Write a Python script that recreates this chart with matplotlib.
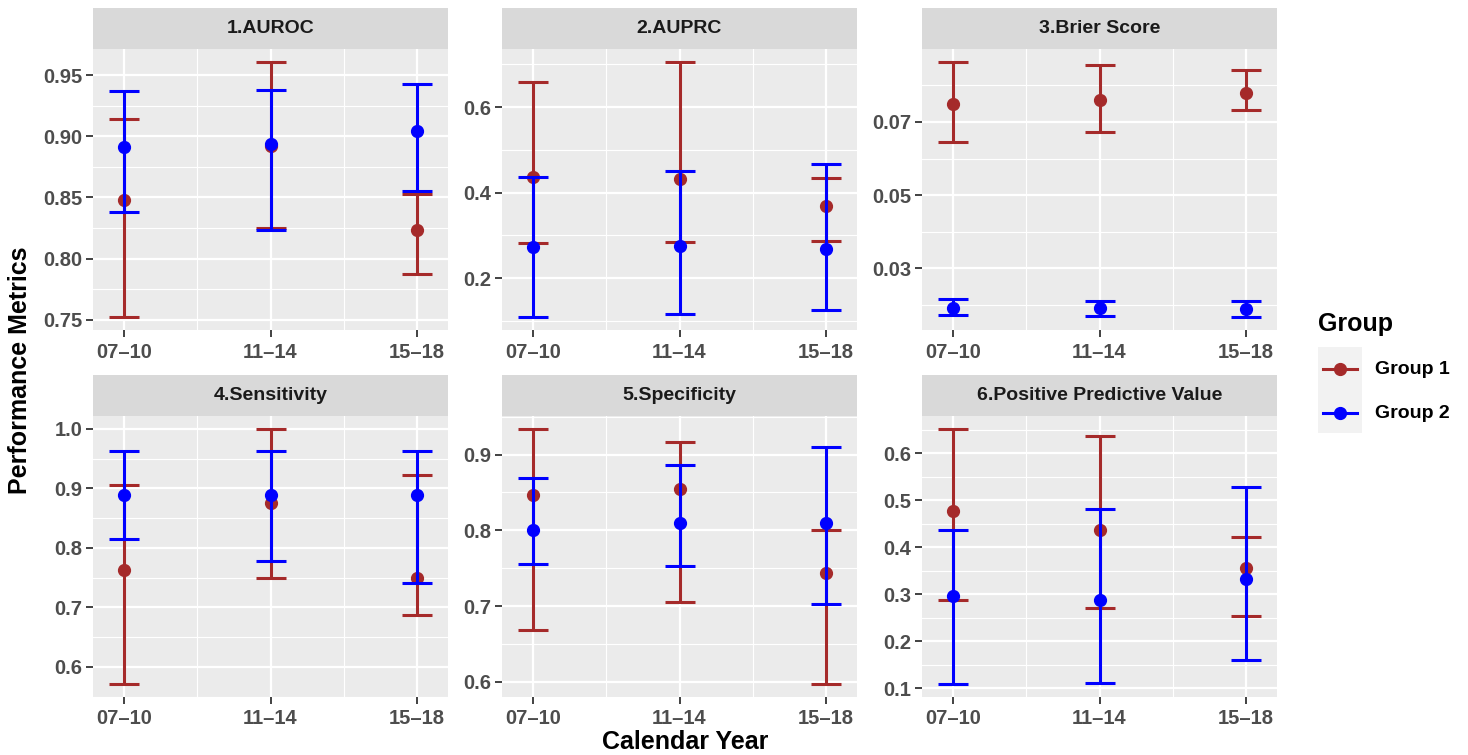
import numpy as np
import matplotlib.pyplot as plt
from matplotlib.lines import Line2D
from matplotlib.patches import Rectangle

plt.rcParams['font.family'] = ['Liberation Sans', 'DejaVu Sans']
plt.rcParams['font.weight'] = 'bold'

periods = ["07–10", "11–14", "15–18"]
metrics = ["1.AUROC", "2.AUPRC", "3.Brier Score",
           "4.Sensitivity", "5.Specificity", "6.Positive Predictive Value"]

# group 1 (brown) estimate / lower / upper, one row per metric
g1_est = [[0.848, 0.892, 0.823], [0.436, 0.432, 0.368], [0.0748, 0.0761, 0.0778],
          [0.762, 0.875, 0.750], [0.846, 0.855, 0.744], [0.477, 0.437, 0.355]]
g1_lo = [[0.752, 0.825, 0.787], [0.282, 0.284, 0.288], [0.0644, 0.0673, 0.0732],
         [0.571, 0.750, 0.688], [0.669, 0.705, 0.597], [0.287, 0.272, 0.254]]
g1_hi = [[0.914, 0.961, 0.853], [0.658, 0.706, 0.434], [0.0864, 0.0855, 0.0841],
         [0.905, 1.000, 0.922], [0.934, 0.917, 0.800], [0.652, 0.636, 0.423]]

# group 2 (blue)
g2_est = [[0.891, 0.894, 0.904], [0.274, 0.276, 0.268], [0.0191, 0.0192, 0.0189],
          [0.889, 0.889, 0.889], [0.801, 0.810, 0.810], [0.297, 0.287, 0.333]]
g2_lo = [[0.838, 0.823, 0.855], [0.109, 0.117, 0.127], [0.0172, 0.0170, 0.0167],
         [0.815, 0.778, 0.741], [0.756, 0.753, 0.703], [0.109, 0.111, 0.160]]
g2_hi = [[0.937, 0.938, 0.943], [0.437, 0.450, 0.466], [0.0216, 0.0211, 0.0211],
         [0.963, 0.963, 0.963], [0.869, 0.886, 0.910], [0.437, 0.482, 0.529]]

yticks = [[0.75, 0.80, 0.85, 0.90, 0.95], [0.2, 0.4, 0.6], [0.03, 0.05, 0.07],
          [0.6, 0.7, 0.8, 0.9, 1.0], [0.6, 0.7, 0.8, 0.9], [0.1, 0.2, 0.3, 0.4, 0.5, 0.6]]
yfmt = ["%.2f", "%.1f", "%.2f", "%.1f", "%.1f", "%.1f"]

groups = ["Group 1", "Group 2"]
colors = ["#A52A2A", "#0000FF"]

W, H = 1468, 755
fig = plt.figure(figsize=(W / 100, H / 100), dpi=100)

col_left = [93, 502, 922]
pw = 355
row_top = [49, 416]
ph = 281
strip_h = 41

x = np.arange(1, 4)
GRID = "white"

for k in range(6):
    r, c = divmod(k, 3)
    l = col_left[c]
    t = row_top[r]
    ax = fig.add_axes([l / W, 1 - (t + ph) / H, pw / W, ph / H])
    ax.set_facecolor("#EBEBEB")
    for s in ax.spines.values():
        s.set_visible(False)

    # y range with ggplot-like 5% expansion
    lo = min(min(g1_lo[k]), min(g2_lo[k]))
    hi = max(max(g1_hi[k]), max(g2_hi[k]))
    pad = (hi - lo) * 0.05
    ax.set_ylim(lo - pad, hi + pad)
    ax.set_xlim(0.79, 3.21)

    tk = yticks[k]
    step = tk[1] - tk[0]
    minors = [v - step / 2 for v in tk] + [tk[-1] + step / 2]
    for m in minors:
        if lo - pad < m < hi + pad:
            ax.axhline(m, color=GRID, lw=0.8, zorder=0)
    for v in tk:
        ax.axhline(v, color=GRID, lw=1.6, zorder=0)
    for m in [1.5, 2.5]:
        ax.axvline(m, color=GRID, lw=0.8, zorder=0)
    for v in x:
        ax.axvline(v, color=GRID, lw=1.6, zorder=0)

    for gi, (est, elo, ehi) in enumerate([(g1_est[k], g1_lo[k], g1_hi[k]),
                                          (g2_est[k], g2_lo[k], g2_hi[k])]):
        est = np.array(est)
        err = [est - np.array(elo), np.array(ehi) - est]
        ax.errorbar(x, est, yerr=err, fmt='o', color=colors[gi], ecolor=colors[gi],
                    elinewidth=2.2, capsize=10.6, capthick=2.2, markersize=8.5,
                    zorder=3 + gi)

    ax.set_yticks(tk)
    ax.set_yticklabels([yfmt[k] % v for v in tk])
    ax.set_xticks(x)
    ax.set_xticklabels(periods)
    ax.tick_params(axis='both', direction='out', length=5, width=1.3, color="#333333",
                   labelcolor="#4D4D4D", labelsize=14.5, pad=2.5)
    ax.tick_params(axis='x', pad=4)

    sax = fig.add_axes([l / W, 1 - t / H, pw / W, strip_h / H])
    sax.set_facecolor("#D9D9D9")
    sax.set_xticks([])
    sax.set_yticks([])
    for s in sax.spines.values():
        s.set_visible(False)
    sax.text(0.5, 0.5, metrics[k], ha='center', va='center', fontsize=14,
             color="#1A1A1A", fontweight='bold', transform=sax.transAxes)

fig.text(20 / W, 1 - 370 / H, "Performance Metrics", rotation=90, ha='center',
         va='center', fontsize=18, fontweight='bold', color='black')
fig.text(685 / W, 1 - 742 / H, "Calendar Year", ha='center', va='center',
         fontsize=18, fontweight='bold', color='black')

# legend, laid out by hand like the ggplot guide
fig.text(1318 / W, 1 - 324 / H, "Group", ha='left', va='center', fontsize=18,
         fontweight='bold', color='black')
fig.add_artist(Rectangle((1318 / W, 1 - 433 / H), 44 / W, 86 / H,
                         transform=fig.transFigure, facecolor="#F2F2F2",
                         edgecolor='none'))
for i, gname in enumerate(groups):
    yy = 1 - (369 + 44 * i) / H
    fig.add_artist(Line2D([1323 / W, 1357 / W], [yy, yy], transform=fig.transFigure,
                          color=colors[i], lw=2.2))
    fig.add_artist(Line2D([1340 / W], [yy], transform=fig.transFigure,
                          color=colors[i], marker='o', markersize=8.5, lw=0))
    fig.text(1375 / W, yy, gname, ha='left', va='center', fontsize=14,
             fontweight='bold', color='black')

fig.savefig("out.png", dpi=100)
